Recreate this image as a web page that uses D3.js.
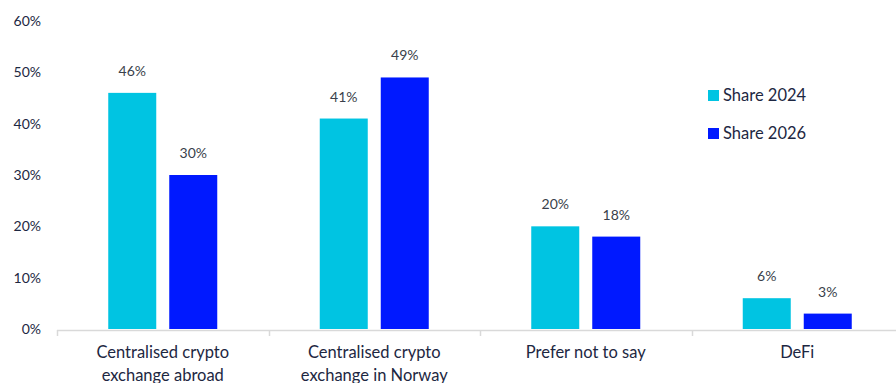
<!DOCTYPE html>
<html>
<head>
<meta charset="utf-8">
<script src="https://cdn.jsdelivr.net/npm/d3@7"></script>
<style>
  html, body { margin: 0; padding: 0; background: #fff; }
  svg { display: block; font-family: Lato, "Open Sans", sans-serif; }
</style>
</head>
<body>
<svg id="chart" width="896" height="383"></svg>
<script>
// Crypto exchange usage by category, 2024 vs 2026
const categories = [
  ["Centralised crypto", "exchange abroad"],
  ["Centralised crypto", "exchange in Norway"],
  ["Prefer not to say"],
  ["DeFi"]
];
const seriesNames = ["Share 2024", "Share 2026"];
const share2024 = [46, 41, 20, 6];
const share2026 = [30, 49, 18, 3];
const yTicks = [0, 10, 20, 30, 40, 50, 60];
const colors = ["#00C4E2", "#0019FF"];

const svg = d3.select("#chart");
const textColor = "#1D2742";

const x = d3.scaleBand().domain(d3.range(categories.length)).range([57, 903]).paddingInner(0).paddingOuter(0);
const y = d3.scaleLinear().domain([0, 60]).range([329, 21]);

const barW = 48, gap = 13;

// Y tick labels
svg.append("g").selectAll("text").data(yTicks).join("text")
  .attr("x", 41).attr("y", d => y(d)).attr("dy", "0.35em")
  .attr("text-anchor", "end").attr("font-size", 14).attr("fill", textColor)
  .text(d => d + "%");

// X axis line and category separators
const axis = svg.append("g");
axis.append("line").attr("x1", 57).attr("x2", 903).attr("y1", 330.5).attr("y2", 330.5)
  .attr("stroke", "#D9D9D9").attr("stroke-width", 1.5);
axis.selectAll("line.tick").data(d3.range(categories.length + 1)).join("line")
  .attr("class", "tick")
  .attr("x1", i => Math.round(57 + i * x.bandwidth()) + 0.5)
  .attr("x2", i => Math.round(57 + i * x.bandwidth()) + 0.5)
  .attr("y1", 330).attr("y2", 336)
  .attr("stroke", "#D9D9D9").attr("stroke-width", 1.5);

// Bars
const series = [share2024, share2026];
series.forEach((vals, s) => {
  const g = svg.append("g");
  const bx = i => x(i) + x.bandwidth() / 2 + (s === 0 ? -gap / 2 - barW : gap / 2);
  g.selectAll("rect").data(vals).join("rect")
    .attr("x", (d, i) => bx(i)).attr("width", barW)
    .attr("y", d => y(d)).attr("height", d => y(0) - y(d))
    .attr("fill", colors[s]);
  g.selectAll("text").data(vals).join("text")
    .attr("x", (d, i) => bx(i) + barW / 2).attr("y", d => y(d) - 17)
    .attr("text-anchor", "middle").attr("font-size", 14).attr("fill", "#3A3F4B")
    .text(d => d + "%");
});

// Category labels
svg.append("g").selectAll("text").data(categories).join("text")
  .attr("x", (d, i) => x(i) + x.bandwidth() / 2)
  .attr("y", 358)
  .attr("text-anchor", "middle").attr("font-size", 16.5).attr("fill", textColor)
  .each(function(lines) {
    d3.select(this).selectAll("tspan").data(lines).join("tspan")
      .attr("x", d3.select(this).attr("x"))
      .attr("dy", (d, j) => j === 0 ? 0 : 23)
      .text(d => d);
  });

// Legend
const legend = svg.append("g").attr("transform", "translate(708,90)");
seriesNames.forEach((name, i) => {
  const row = legend.append("g").attr("transform", `translate(0,${i * 38})`);
  row.append("rect").attr("width", 11).attr("height", 11).attr("fill", colors[i]);
  row.append("text").attr("x", 15).attr("y", 5).attr("dy", "0.35em")
    .attr("font-size", 16.5).attr("fill", textColor).text(name);
});
</script>
</body>
</html>
